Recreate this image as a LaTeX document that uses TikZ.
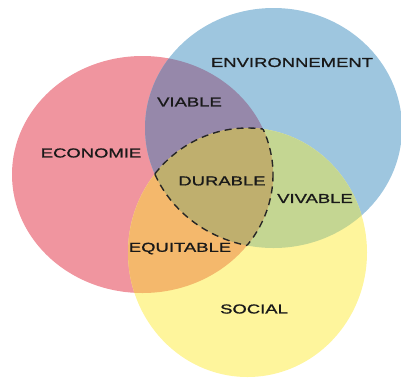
\documentclass[tikz,border=0pt]{standalone}
\usepackage{fontspec}
\setmainfont{Liberation Sans}[FakeStretch=1.42, FakeBold=1]
\usepackage{tikz}

\definecolor{ecored}{HTML}{F0959F}
\definecolor{envblue}{HTML}{9EC6DF}
\definecolor{socyellow}{HTML}{FEF59C}
\definecolor{viablecol}{HTML}{9688AA}
\definecolor{vivablecol}{HTML}{C4D692}
\definecolor{equitcol}{HTML}{F4B86C}
\definecolor{durcol}{HTML}{BFAF6E}

\begin{document}
\begin{tikzpicture}[x=1pt,y=-1pt,
    lbl/.style={font=\fontsize{13}{13}\selectfont, text=black!90, inner sep=0pt},
    edge/.style={dash pattern=on 7pt off 5pt, line width=1.4pt, black!85}]
    \useasboundingbox (0,0) rectangle (401,378);
    \def\ecopath{(142.5,174.5) ellipse [x radius=130.5, y radius=118.5]}
    \def\envpath{(273.5,128) ellipse [x radius=128.5, y radius=120]}
    \def\socpath{(247.5,252.5) ellipse [x radius=119.5, y radius=124.5]}
    % Circles
    \fill[ecored] \ecopath;
    \fill[envblue] \envpath;
    \fill[socyellow] \socpath;
    % Overlaps
    \begin{scope}
        \clip \ecopath;
        \fill[viablecol] \envpath;
    \end{scope}
    \begin{scope}
        \clip \envpath;
        \fill[vivablecol] \socpath;
    \end{scope}
    \begin{scope}
        \clip \ecopath;
        \fill[equitcol] \socpath;
    \end{scope}
    \begin{scope}
        \clip \ecopath;
        \clip \envpath;
        \fill[durcol] \socpath;
    \end{scope}
    % Dashed outline of the centre
    \begin{scope}
        \clip \ecopath;
        \clip \envpath;
        \draw[edge] \socpath;
    \end{scope}
    \begin{scope}
        \clip \ecopath;
        \clip \socpath;
        \draw[edge] \envpath;
    \end{scope}
    \begin{scope}
        \clip \envpath;
        \clip \socpath;
        \draw[edge] \ecopath;
    \end{scope}
    % Labels
    \node[lbl] (env) at (292,62.5) {ENVIRONNEMENT};
    \node[lbl] (eco) at (91,153) {ECONOMIE};
    \node[lbl] (soc) at (254,309) {SOCIAL};
    \node[lbl] (viable) at (189.5,102) {VIABLE};
    \node[lbl] (vivable) at (315,198.5) {VIVABLE};
    \node[lbl] (equit) at (180,248.5) {EQUITABLE};
    \node[lbl] (durable) at (222,181) {DURABLE};
\end{tikzpicture}
\end{document}
